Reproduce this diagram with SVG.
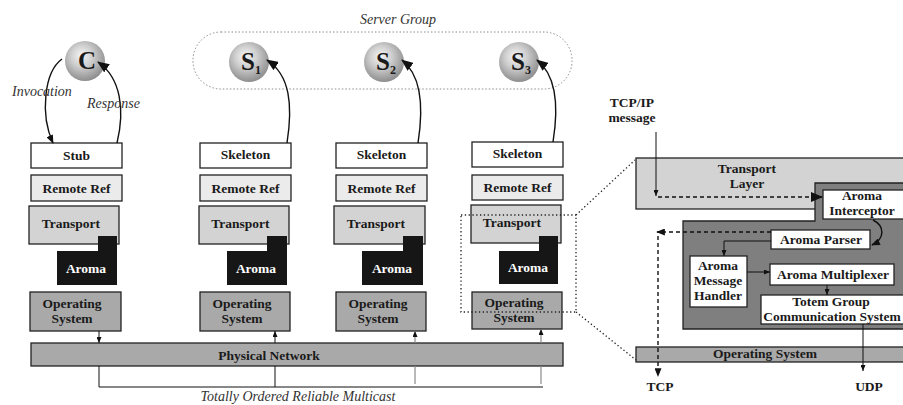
<svg xmlns="http://www.w3.org/2000/svg" width="903" height="405" viewBox="0 0 903 405">
  <defs>
    <radialGradient id="sphere" cx="0.45" cy="0.4" r="0.6" fx="0.4" fy="0.35">
      <stop offset="0" stop-color="#f4f4f4"/>
      <stop offset="0.45" stop-color="#cfcfcf"/>
      <stop offset="1" stop-color="#8e8e8e"/>
    </radialGradient>
    <marker id="big" viewBox="0 0 12 10" refX="11" refY="5" markerWidth="12" markerHeight="10" markerUnits="userSpaceOnUse" orient="auto">
      <path d="M0,0 L12,5 L0,10 Z" fill="#111"/>
    </marker>
    <marker id="mid" viewBox="0 0 10 8" refX="9" refY="4" markerWidth="9" markerHeight="7" markerUnits="userSpaceOnUse" orient="auto">
      <path d="M0,0 L10,4 L0,8 Z" fill="#111"/>
    </marker>
    <marker id="small" viewBox="0 0 6 5" refX="6" refY="2.5" markerWidth="6" markerHeight="5" markerUnits="userSpaceOnUse" orient="auto">
      <path d="M0,0 L6,2.5 L0,5 Z" fill="#111"/>
    </marker>
    <style>
      .box { stroke: #222; stroke-width: 1.3; }
      .white { fill: #ffffff; }
      .ref { fill: #ebebeb; }
      .trans { fill: #d3d3d3; }
      .os { fill: #a9a9a9; }
      .aroma { fill: #161616; }
      .dark { fill: #7f7f7f; }
      .lbl { font-family: "Liberation Serif", "Times New Roman", serif; font-weight: bold; font-size: 13.5px; text-anchor: middle; fill: #1a1a1a; }
      .inv { fill: #ffffff; }
      .it { font-family: "Liberation Serif", "Times New Roman", serif; font-style: italic; font-size: 14px; fill: #333; }
      .ball { font-family: "Liberation Serif", "Times New Roman", serif; font-weight: bold; font-size: 25px; fill: #1a1a1a; }
      .wire { fill: none; stroke: #111; stroke-width: 1; }
      .grey { fill: none; stroke: #8a8a8a; stroke-width: 1.2; }
      .curve { fill: none; stroke: #111; stroke-width: 1.4; }
      .dash { fill: none; stroke: #111; stroke-width: 1.4; stroke-dasharray: 4 3; }
      .dot { fill: none; stroke: #222; stroke-width: 1.3; stroke-dasharray: 1.3 2.5; }
      .group { fill: none; stroke: #8c8c8c; stroke-width: 1; stroke-dasharray: 1.5 2; }
    </style>
  </defs>

  <!-- server group outline -->
  <g id="server-group">
    <rect x="193" y="32" width="379" height="57" rx="28" ry="28" class="group"/>
    <text x="398" y="24" class="it" text-anchor="middle">Server Group</text>
  </g>

  <!-- client and server objects -->
  <g id="client">
    <circle cx="85" cy="61" r="20" fill="url(#sphere)"/>
    <text x="87" y="69" class="ball" text-anchor="middle">C</text>
  </g>
  <g id="server1">
    <circle cx="249" cy="62" r="20" fill="url(#sphere)"/>
    <text x="241" y="70" class="ball">S<tspan font-size="12" dy="4">1</tspan></text>
  </g>
  <g id="server2">
    <circle cx="384" cy="62" r="20" fill="url(#sphere)"/>
    <text x="376" y="70" class="ball">S<tspan font-size="12" dy="4">2</tspan></text>
  </g>
  <g id="server3">
    <circle cx="519" cy="62" r="20" fill="url(#sphere)"/>
    <text x="511" y="70" class="ball">S<tspan font-size="12" dy="4">3</tspan></text>
  </g>

  <!-- protocol stacks -->
  <g id="stack-client" transform="translate(31,0)">
    <rect x="0" y="143" width="91" height="25" class="box white"/>
    <text x="45.5" y="160" class="lbl">Stub</text>
    <rect x="0" y="175" width="91" height="26" class="box ref"/>
    <text x="45.5" y="193" class="lbl">Remote Ref</text>
    <rect x="-2" y="206" width="90" height="38" class="box trans"/>
    <text x="40" y="228" class="lbl">Transport</text>
    <polygon points="67,236 86,236 86,285 26,285 26,251 67,251" class="aroma"/>
    <text x="55" y="273" class="lbl inv">Aroma</text>
    <rect x="-1" y="292" width="91" height="39" class="box os"/>
    <text x="41" y="308" class="lbl">Operating</text>
    <text x="41" y="323" class="lbl">System</text>
  </g>
  <g id="stack-s1" transform="translate(200,0)">
    <rect x="0" y="143" width="91" height="25" class="box white"/>
    <text x="45.5" y="159" class="lbl">Skeleton</text>
    <rect x="0" y="175" width="91" height="26" class="box ref"/>
    <text x="45.5" y="193" class="lbl">Remote Ref</text>
    <rect x="-1" y="206" width="90" height="38" class="box trans"/>
    <text x="40.5" y="228" class="lbl">Transport</text>
    <polygon points="67,236 87,236 87,285 27,285 27,251 67,251" class="aroma"/>
    <text x="56" y="273" class="lbl inv">Aroma</text>
    <rect x="0" y="292" width="90" height="39" class="box os"/>
    <text x="42" y="308" class="lbl">Operating</text>
    <text x="42" y="323" class="lbl">System</text>
  </g>
  <g id="stack-s2" transform="translate(336,0)">
    <rect x="0" y="143" width="91" height="25" class="box white"/>
    <text x="45.5" y="159" class="lbl">Skeleton</text>
    <rect x="0" y="175" width="91" height="26" class="box ref"/>
    <text x="45.5" y="193" class="lbl">Remote Ref</text>
    <rect x="-2" y="206" width="91" height="38" class="box trans"/>
    <text x="40" y="228" class="lbl">Transport</text>
    <polygon points="67,236 87,236 87,285 26,285 26,251 67,251" class="aroma"/>
    <text x="56" y="273" class="lbl inv">Aroma</text>
    <rect x="0" y="292" width="90" height="39" class="box os"/>
    <text x="42" y="308" class="lbl">Operating</text>
    <text x="42" y="323" class="lbl">System</text>
  </g>
  <g id="stack-s3" transform="translate(472,0)">
    <rect x="0" y="142" width="91" height="25" class="box white"/>
    <text x="45.5" y="158" class="lbl">Skeleton</text>
    <rect x="0" y="175" width="91" height="25" class="box ref"/>
    <text x="45.5" y="192" class="lbl">Remote Ref</text>
    <rect x="-1" y="205" width="90" height="38" class="box trans"/>
    <text x="40" y="227" class="lbl">Transport</text>
    <polygon points="67,236 86,236 86,284 27,284 27,251 67,251" class="aroma"/>
    <text x="56" y="272" class="lbl inv">Aroma</text>
    <rect x="0" y="292" width="90" height="37" class="box os"/>
    <text x="42" y="307" class="lbl">Operating</text>
    <text x="42" y="322" class="lbl">System</text>
  </g>

  <g id="physical-network">
    <rect x="31" y="343" width="532" height="23" class="box os"/>
    <text x="269" y="360" class="lbl">Physical Network</text>
  </g>
  <text x="298" y="401" class="it" text-anchor="middle">Totally Ordered Reliable Multicast</text>

  <!-- magnified Aroma layer -->
  <g id="zoom-frame">
    <rect x="461" y="215" width="115" height="97" class="dot"/>
    <line x1="576" y1="215" x2="635" y2="160" class="dot"/>
    <line x1="576" y1="312" x2="636" y2="360" class="dot"/>
  </g>
  <g id="transport-layer">
    <rect x="636" y="158" width="280" height="51" class="box trans"/>
    <text x="747" y="173" class="lbl">Transport</text>
    <text x="747" y="188" class="lbl">Layer</text>
  </g>
  <g id="aroma-layer">
    <polygon points="815,183 915,183 915,329 683,329 683,221 815,221" class="box dark"/>
  </g>
  <g id="interceptor">
    <rect x="823" y="190" width="90" height="29" class="box white"/>
    <text x="862" y="200" class="lbl">Aroma</text>
    <text x="862" y="215" class="lbl">Interceptor</text>
  </g>
  <g id="parser">
    <rect x="771" y="230" width="99" height="19" class="box white"/>
    <text x="821" y="244" class="lbl">Aroma Parser</text>
  </g>
  <g id="message-handler">
    <rect x="690" y="256" width="57" height="51" class="box white"/>
    <text x="718" y="270" class="lbl">Aroma</text>
    <text x="718" y="285" class="lbl">Message</text>
    <text x="718" y="300" class="lbl">Handler</text>
  </g>
  <g id="multiplexer">
    <rect x="770" y="264" width="124" height="21" class="box white"/>
    <text x="833" y="279" class="lbl">Aroma Multiplexer</text>
  </g>
  <g id="totem">
    <rect x="761" y="295" width="150" height="29" class="box white"/>
    <text x="831" y="306" class="lbl">Totem Group</text>
    <text x="832" y="321" class="lbl">Communication System</text>
  </g>
  <g id="os-layer">
    <rect x="636" y="347" width="280" height="15" class="box os"/>
    <text x="765" y="358" class="lbl">Operating System</text>
  </g>
  <text x="632" y="107" class="lbl" text-anchor="start">TCP/IP</text>
  <text x="632" y="122" class="lbl" text-anchor="start">message</text>
  <text x="660" y="391" class="lbl">TCP</text>
  <text x="869" y="391" class="lbl">UDP</text>

  <g id="connectors">
    <!-- client invocation / response -->
    <path d="M62,59 C44,72 40,115 53,143" class="curve" marker-end="url(#mid)"/>
    <path d="M117,143 C125,110 121,78 98,62" class="curve" marker-end="url(#big)"/>
    <text x="12" y="96" class="it">Invocation</text>
    <text x="87" y="108" class="it">Response</text>
    <!-- skeleton up-calls -->
    <path d="M287,143 C293,105 290,75 267,60" class="curve" marker-end="url(#big)"/>
    <path d="M418,143 C424,105 421,75 402,60" class="curve" marker-end="url(#big)"/>
    <path d="M553,142 C559,105 556,75 537,60" class="curve" marker-end="url(#big)"/>
    <!-- operating system to network -->
    <line x1="99" y1="331" x2="99" y2="343" class="wire" marker-end="url(#small)"/>
    <line x1="275" y1="343" x2="275" y2="331" class="wire" marker-end="url(#small)"/>
    <line x1="415" y1="343" x2="415" y2="331" class="grey" marker-end="url(#small)"/>
    <line x1="541" y1="343" x2="541" y2="329" class="grey" marker-end="url(#small)"/>
    <!-- multicast bus -->
    <path d="M99,366 V387 H543" class="wire"/>
    <line x1="275" y1="366" x2="275" y2="387" class="wire"/>
    <line x1="415" y1="366" x2="415" y2="384" class="grey"/>
    <line x1="541" y1="366" x2="541" y2="384" class="grey"/>
    <!-- right panel -->
    <line x1="656" y1="132" x2="656" y2="196" class="wire" marker-end="url(#small)"/>
    <line x1="658" y1="197" x2="822" y2="197" class="dash" marker-end="url(#big)"/>
    <path d="M873,220 C885,226 885,239 872,245" class="curve" marker-end="url(#mid)"/>
    <line x1="771" y1="232" x2="657" y2="232" class="dash" marker-end="url(#mid)"/>
    <line x1="658" y1="236" x2="658" y2="376" class="dash" marker-end="url(#mid)"/>
    <path d="M771,241 H724 V256" class="wire" marker-end="url(#small)"/>
    <line x1="747" y1="272" x2="770" y2="272" class="wire" marker-end="url(#small)"/>
    <line x1="827" y1="285" x2="827" y2="295" class="wire" marker-end="url(#small)"/>
    <line x1="863" y1="324" x2="863" y2="371" class="wire" marker-end="url(#small)"/>
  </g>
</svg>
